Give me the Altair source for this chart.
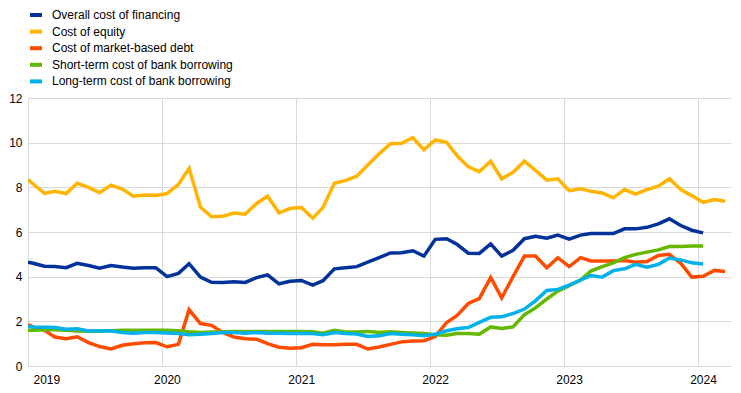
import altair as alt
import pandas as pd

# monthly observations (mid-month), Dec 2018 .. Mar 2024
months = pd.date_range("2018-12-01", "2024-03-01", freq="MS")
dates = [d.strftime("%Y-%m-15") for d in months]

series_names = [
    "Overall cost of financing",
    "Cost of equity",
    "Cost of market-based debt",
    "Short-term cost of bank borrowing",
    "Long-term cost of bank borrowing",
]
series_colors = ["#003299", "#FFB400", "#FF4B00", "#65B800", "#00B1EA"]

overall = [4.65,
    4.6, 4.47, 4.45, 4.4, 4.6, 4.5, 4.38, 4.5, 4.43, 4.38, 4.4, 4.4,
    4.0, 4.15, 4.58, 3.98, 3.75, 3.74, 3.77, 3.74, 3.96, 4.08, 3.68, 3.79,
    3.83, 3.62, 3.82, 4.35, 4.4, 4.45, 4.65, 4.85, 5.06, 5.07, 5.16, 4.92,
    5.67, 5.7, 5.45, 5.05, 5.04, 5.47, 4.92, 5.18, 5.7, 5.81, 5.72, 5.86,
    5.68, 5.86, 5.93, 5.93, 5.93, 6.14, 6.14, 6.21, 6.36, 6.59, 6.29, 6.08,
    5.96]
equity = [8.35,
    8.15, 7.73, 7.82, 7.72, 8.18, 8.0, 7.76, 8.1, 7.92, 7.6, 7.66, 7.64,
    7.72, 8.13, 8.85, 7.12, 6.68, 6.7, 6.85, 6.8, 7.28, 7.6, 6.86, 7.05,
    7.1, 6.62, 7.1, 8.18, 8.3, 8.5, 9.0, 9.5, 9.95, 9.97, 10.22, 9.68,
    10.12, 10.02, 9.42, 8.92, 8.7, 9.17, 8.38, 8.67, 9.17, 8.76, 8.32, 8.38,
    7.85, 7.94, 7.82, 7.75, 7.53, 7.9, 7.7, 7.9, 8.05, 8.38, 7.9, 7.63,
    7.33, 7.45, 7.38]
market_debt = [1.85,
    1.75, 1.6, 1.3, 1.22, 1.31, 1.05, 0.87, 0.76, 0.93, 1.0, 1.04, 1.05,
    0.86, 0.97, 2.52, 1.9, 1.82, 1.5, 1.3, 1.22, 1.2, 1.0, 0.84, 0.8,
    0.82, 0.97, 0.95, 0.95, 0.97, 0.97, 0.76, 0.85, 0.97, 1.08, 1.12, 1.13,
    1.32, 1.95, 2.25, 2.8, 3.02, 3.97, 3.05, 4.0, 4.92, 4.92, 4.4, 4.85,
    4.45, 4.85, 4.7, 4.7, 4.7, 4.72, 4.65, 4.68, 4.95, 5.0, 4.6, 3.98,
    4.02, 4.28, 4.23]
short_term_bank = [1.6,
    1.6, 1.62, 1.62, 1.6, 1.57, 1.56, 1.57, 1.58, 1.6, 1.6, 1.6, 1.6,
    1.6, 1.58, 1.53, 1.5, 1.52, 1.52, 1.55, 1.55, 1.55, 1.55, 1.55, 1.54,
    1.55, 1.53, 1.47, 1.6, 1.52, 1.52, 1.55, 1.5, 1.53, 1.5, 1.48, 1.45,
    1.4, 1.38, 1.45, 1.45, 1.42, 1.75, 1.68, 1.75, 2.3, 2.6, 3.0, 3.35,
    3.6, 3.85, 4.25, 4.45, 4.62, 4.85, 5.0, 5.1, 5.2, 5.35, 5.35, 5.37,
    5.37]
long_term_bank = [1.77,
    1.75, 1.73, 1.72, 1.65, 1.67, 1.57, 1.57, 1.58, 1.5, 1.47, 1.5, 1.5,
    1.48, 1.46, 1.4, 1.42, 1.45, 1.5, 1.5, 1.47, 1.5, 1.47, 1.47, 1.45,
    1.46, 1.46, 1.4, 1.5, 1.46, 1.43, 1.32, 1.35, 1.45, 1.42, 1.4, 1.35,
    1.42, 1.58, 1.67, 1.72, 1.95, 2.18, 2.2, 2.35, 2.55, 2.92, 3.38, 3.43,
    3.62, 3.85, 4.05, 3.98, 4.27, 4.35, 4.55, 4.42, 4.55, 4.83, 4.75, 4.62,
    4.57]

year_ticks = [2019, 2020, 2021, 2022, 2023, 2024]
y_ticks = [0, 2, 4, 6, 8, 10, 12]

rows = []
for name, vals in zip(series_names,
                      [overall, equity, market_debt, short_term_bank, long_term_bank]):
    for i, v in enumerate(vals):
        rows.append({"date": dates[i], "value": v, "series": name, "idx": i})
df = pd.DataFrame(rows)

FONT = "Liberation Sans"

chart = alt.Chart(df).mark_line(strokeWidth=3.5, clip=True).encode(
    x=alt.X(
        "date:T",
        title=None,
        scale=alt.Scale(
            type="utc",
            clamp=True,
            domain=[alt.DateTime(year=2019, month=1, date=1, utc=True),
                    alt.DateTime(year=2024, month=3, date=31, utc=True)],
        ),
        axis=alt.Axis(
            values=[alt.DateTime(year=y, month=1, date=1, utc=True) for y in year_ticks],
            labelExpr="utcFormat(datum.value, '%Y')",
            grid=True, gridColor="#d9d9d9", gridWidth=1,
            domain=False, ticks=False,
            labelOffset=5, labelPadding=8,
            labelFont=FONT, labelFontSize=12, labelColor="#000000",
        ),
    ),
    y=alt.Y(
        "value:Q",
        title=None,
        scale=alt.Scale(domain=[0, 12], nice=False),
        axis=alt.Axis(
            values=y_ticks,
            grid=True, gridColor="#d9d9d9", gridWidth=1,
            domain=False, ticks=False, labelPadding=6,
            labelFont=FONT, labelFontSize=12, labelColor="#000000",
        ),
    ),
    color=alt.Color(
        "series:N",
        sort=series_names,
        scale=alt.Scale(domain=series_names, range=series_colors),
        legend=alt.Legend(
            title=None, orient="none", legendX=0, legendY=-91,
            direction="vertical",
            symbolType="stroke", symbolStrokeWidth=4, symbolSize=144,
            labelFont=FONT, labelFontSize=12, labelColor="#000000",
            labelOffset=8, rowPadding=0.6, padding=0, labelLimit=400,
        ),
    ),
    order=alt.Order("idx:Q"),
).properties(
    width=703,
    height=268,
    autosize=alt.AutoSizeParams(type="none"),
    padding={"left": 20, "top": 90, "right": 2, "bottom": 19},
).configure_view(stroke=None)

chart.save("out.html", embed_options={"renderer": "svg", "actions": False})
